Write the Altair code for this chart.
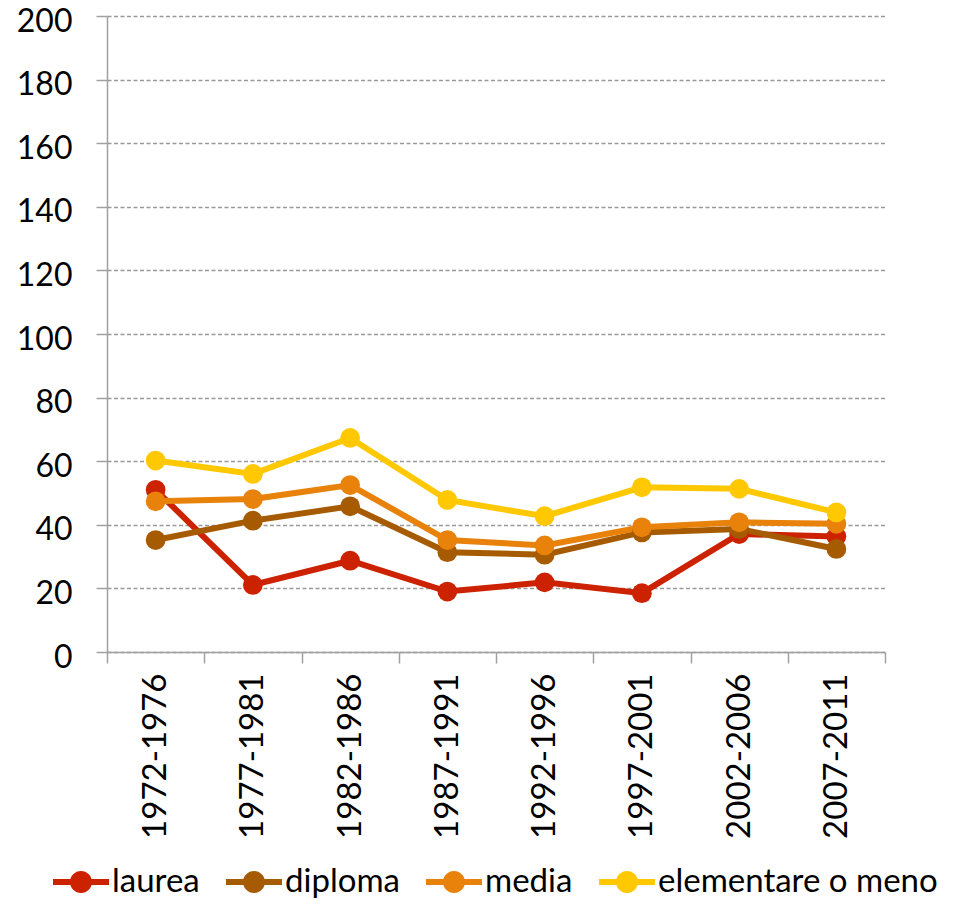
import altair as alt
import pandas as pd

periods = ["1972-1976", "1977-1981", "1982-1986", "1987-1991",
           "1992-1996", "1997-2001", "2002-2006", "2007-2011"]
series = ["laurea", "diploma", "media", "elementare o meno"]
laurea = [51.0, 21.1, 28.7, 19.0, 21.9, 18.5, 37.1, 36.3]
diploma = [35.2, 41.3, 45.8, 31.4, 30.6, 37.6, 38.7, 32.4]
media = [47.4, 48.1, 52.5, 35.2, 33.5, 39.2, 40.8, 40.3]
elementare = [60.2, 56.0, 67.3, 47.8, 42.7, 51.8, 51.3, 43.9]
colors = ["#CC2200", "#A65B00", "#E8820A", "#FFC800"]

rows = []
for s, vals in zip(series, [laurea, diploma, media, elementare]):
    for p, v in zip(periods, vals):
        rows.append({"periodo": p, "serie": s, "valore": v})
df = pd.DataFrame(rows)

FONT = "Lato"
color_scale = alt.Scale(domain=series, range=colors)
x_enc = alt.X("periodo:N", sort=periods, scale=alt.Scale(paddingInner=0, paddingOuter=0),
              axis=alt.Axis(title=None, labelAngle=-90, tickBand="extent", tickSize=11,
                            labelPadding=10, labelFontSize=33, labelFont=FONT,
                            labelColor="black", domainColor="#A0A0A0", domainWidth=1.5,
                            tickColor="#A0A0A0", tickWidth=1.5, grid=False))
y_enc = alt.Y("valore:Q", scale=alt.Scale(domain=[0, 200], nice=False),
              axis=alt.Axis(title=None, values=list(range(0, 201, 20)), tickSize=11,
                            labelPadding=24, labelFontSize=32, labelFont=FONT,
                            labelColor="black", domainColor="#A0A0A0", domainWidth=1.5,
                            tickColor="#A0A0A0", tickWidth=1.5, grid=True,
                            gridColor="#999999", gridDash=[4, 2.5], gridWidth=1.3,
                            labelOffset=5))

sym = ("M-1,-0.107 H1 V0.107 H-1 Z "
       "M0.393,0 A0.393,0.393 0 1,1 -0.393,0 A0.393,0.393 0 1,1 0.393,0 Z")

lines = alt.Chart(df).mark_line(strokeWidth=6).encode(
    x=x_enc, y=y_enc,
    color=alt.Color("serie:N", scale=color_scale, sort=series, legend=None),
    order=alt.Order("periodo:N"),
)
points = alt.Chart(df).mark_point(filled=True, size=390, opacity=1, shape="circle").encode(
    x=x_enc, y=y_enc,
    color=alt.Color("serie:N", scale=color_scale, sort=series,
                    legend=alt.Legend(title=None, orient="none", direction="horizontal",
                                      legendX=-54, legendY=838, padding=0,
                                      symbolType=sym, symbolSize=3136, symbolStrokeWidth=0,
                                      symbolOpacity=1,
                                      labelFont=FONT, labelFontSize=33, labelColor="black",
                                      labelOffset=3, columnPadding=26, labelLimit=600)),
)

chart = alt.layer(lines, points).resolve_legend(color="independent").properties(
    width=778, height=636,
    padding={"left": 99, "top": 8, "right": 60, "bottom": 248},
    autosize="none",
).configure_view(stroke=None)

chart.save("out.html", embed_options={"renderer": "svg", "actions": False})
